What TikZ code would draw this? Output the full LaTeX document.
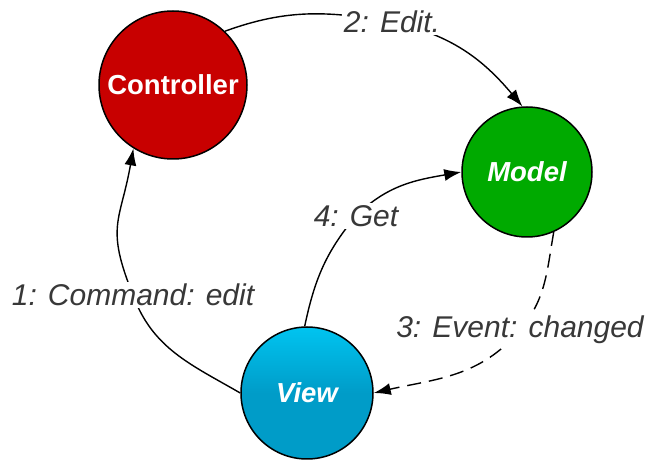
\documentclass[tikz,border=0pt]{standalone}
\usepackage{fontspec}
\setmainfont{Liberation Sans}
\usetikzlibrary{arrows.meta}
\definecolor{ctrl}{HTML}{C80000}
\definecolor{mdl}{HTML}{00AA00}
\definecolor{vtop}{HTML}{00C4F0}
\definecolor{vbot}{HTML}{009CC8}
\definecolor{lbl}{HTML}{383838}
\begin{document}
\begin{tikzpicture}[x=1pt,y=1pt,
  comp/.style={circle,draw=black,line width=1.5pt,inner sep=0pt,text=white,
    font=\fontsize{27.5}{30}\selectfont\bfseries},
  lab/.style={fill=white,inner sep=2pt,text=lbl,font=\fontsize{30}{32}\selectfont\itshape},
  conn/.style={line width=1.4pt,-{Latex[length=17pt,width=12pt]}}]
\useasboundingbox (0,0) rectangle (646,-462);
\node[comp,fill=ctrl,minimum size=148pt] (C) at (173,-85) {Controller};
\node[comp,fill=mdl,minimum size=130pt] (M) at (527,-172) {\itshape Model};
\node[comp,top color=vtop,bottom color=vbot,middle color=vbot,minimum size=132pt] (V) at (307,-393) {\itshape View};
\draw[conn] (V.west) to[out=150,in=-70] (133,-295) node[lab] (l1) {1: Command: edit} to[out=112,in=-100,looseness=1.3] (C.-122);
\draw[conn] (C.46) to[out=20,in=170] (392,-22) node[lab] (l2) {2: Edit.} to[out=-12,in=130] (M.94);
\draw[conn,dash pattern=on 14pt off 8pt] (M.-66) to[out=-100,in=50] (520,-330) node[lab] (l3) {3: Event: changed} to[out=230,in=13] (V.east);
\draw[conn] (V.92) to[out=78,in=-130] (356,-216) node[lab] (l4) {4: Get} to[out=45,in=190] (M.180);
\end{tikzpicture}
\end{document}
